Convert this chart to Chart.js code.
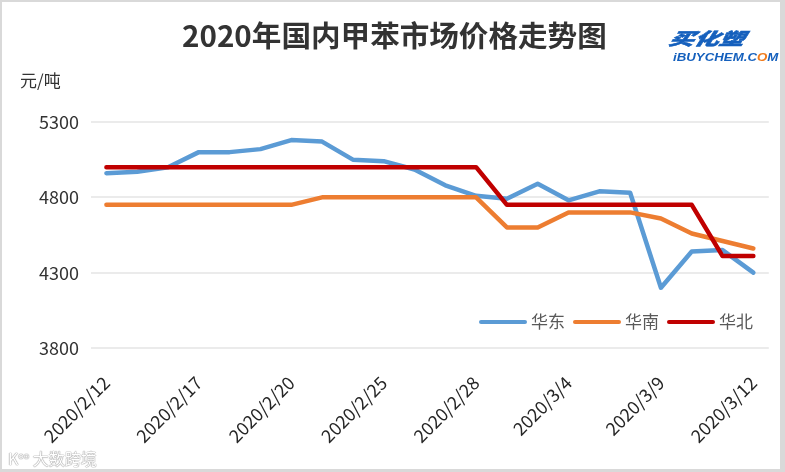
<!DOCTYPE html>
<html><head><meta charset="utf-8">
<script src="https://cdn.jsdelivr.net/npm/chart.js@4"></script>
<style>
html,body{margin:0;padding:0;background:#d9d9d9;width:785px;height:472px;overflow:hidden;}
#frame{position:absolute;left:2px;top:2px;width:778px;height:467px;background:#fff;}
#c{position:absolute;left:0;top:0;}
.t{position:absolute;white-space:nowrap;font-family:"Noto Sans CJK SC","Noto Sans",sans-serif;}
</style></head><body>
<div id="frame"></div>
<canvas id="c" width="785" height="472"></canvas>
<div class="t" style="left:182px;top:20px;font-size:29px;line-height:29px;font-weight:bold;color:#333;transform:scaleX(1.02);transform-origin:left top;">2020年国内甲苯市场价格走势图</div>
<div class="t" style="left:20px;top:71px;font-size:17px;line-height:17px;color:#333;">元/吨</div>
<div class="t" style="left:672px;top:30px;font-size:20px;line-height:20px;font-weight:900;font-style:italic;color:#1560bd;transform:scale(1.25,0.85) skewX(-10deg);transform-origin:left top;-webkit-text-stroke:0.6px #1560bd;">买化塑</div>
<div class="t" style="left:673px;top:53px;font-family:'Liberation Sans',sans-serif;font-size:13px;line-height:12px;font-weight:bold;font-style:italic;color:#1560bd;transform:scale(1.02,0.8);transform-origin:left top;">iBUYCHEM.C<span style="color:#f07a1a">O</span>M</div>
<div class="t" style="left:8px;top:447px;font-size:16px;line-height:18px;color:#fff;text-shadow:0 0 1px #999,0 0 1px #999,0 0 1px #999;">K<sup style="font-size:9px">oo</sup> 大数跨境</div>
<script>
const dates = ['2020/2/12','2020/2/13','2020/2/14','2020/2/17','2020/2/18','2020/2/19','2020/2/20','2020/2/21','2020/2/24','2020/2/25','2020/2/26','2020/2/27','2020/2/28','2020/3/2','2020/3/3','2020/3/4','2020/3/5','2020/3/6','2020/3/9','2020/3/10','2020/3/11','2020/3/12'];
const xTickLabels = ['2020/2/12','2020/2/17','2020/2/20','2020/2/25','2020/2/28','2020/3/4','2020/3/9','2020/3/12'];
const yTickValues = [3800,4300,4800,5300];
const seriesNames = ['华东','华南','华北'];
const eastValues  = [4960,4970,5000,5100,5100,5120,5180,5170,5050,5040,4985,4880,4810,4790,4890,4780,4840,4830,4200,4440,4450,4300];
const southValues = [4750,4750,4750,4750,4750,4750,4750,4800,4800,4800,4800,4800,4800,4600,4600,4700,4700,4700,4660,4560,4510,4460];
const northValues = [5000,5000,5000,5000,5000,5000,5000,5000,5000,5000,5000,5000,5000,4750,4750,4750,4750,4750,4750,4750,4410,4410];

const FONT = '"Noto Sans CJK SC","Noto Sans",sans-serif';

const legendPlugin = {
  id:'inlineLegend',
  afterDatasetsDraw(chart){
    const c = chart.ctx;
    let x = 481; const y = 322;
    c.save();
    c.font = '17px ' + FONT;
    c.textBaseline = 'middle';
    chart.data.datasets.forEach(ds=>{
      c.strokeStyle = ds.borderColor; c.lineWidth = 4; c.lineCap = 'round';
      c.beginPath(); c.moveTo(x,y); c.lineTo(x+44,y); c.stroke();
      c.fillStyle = '#595959';
      c.fillText(ds.label, x+50, y);
      x += 50 + c.measureText(ds.label).width + 10;
    });
    c.restore();
  }
};

const mk = (label, data, color, order) => ({label, data, borderColor:color, backgroundColor:color, borderWidth:4.5, pointRadius:0, tension:0, borderJoinStyle:'round', borderCapStyle:'round', order});

new Chart(document.getElementById('c'), {
  type:'line',
  data:{
    labels:dates,
    datasets:[
      mk(seriesNames[0], eastValues, '#5B9BD5', 3),
      mk(seriesNames[1], southValues, '#ED7D31', 2),
      mk(seriesNames[2], northValues, '#C00000', 1)
    ]
  },
  options:{
    responsive:false, animation:false, devicePixelRatio:1,
    layout:{padding:{left:0,right:16,top:122,bottom:0}},
    plugins:{legend:{display:false}, tooltip:{enabled:false}, title:{display:false}},
    scales:{
      x:{
        offset:true,
        grid:{display:false}, border:{display:false},
        ticks:{autoSkip:false, maxRotation:45, minRotation:45, padding:16, color:'#262626',
          font:{size:18, family:FONT},
          callback:(v,i)=> xTickLabels.includes(dates[i]) ? dates[i] : ''},
        afterFit:s=>{ s.height = 472-348; }
      },
      y:{
        min:3800, max:5300,
        afterBuildTicks:s=>{ s.ticks = yTickValues.map(v=>({value:v})); },
        ticks:{padding:12, color:'#333', font:{size:18, family:FONT}, callback:v=>String(v)},
        grid:{color:'#ebebeb', lineWidth:2, drawTicks:false},
        border:{display:false},
        afterFit:s=>{ s.width = 91; }
      }
    }
  },
  plugins:[legendPlugin]
});
</script>
</body></html>
